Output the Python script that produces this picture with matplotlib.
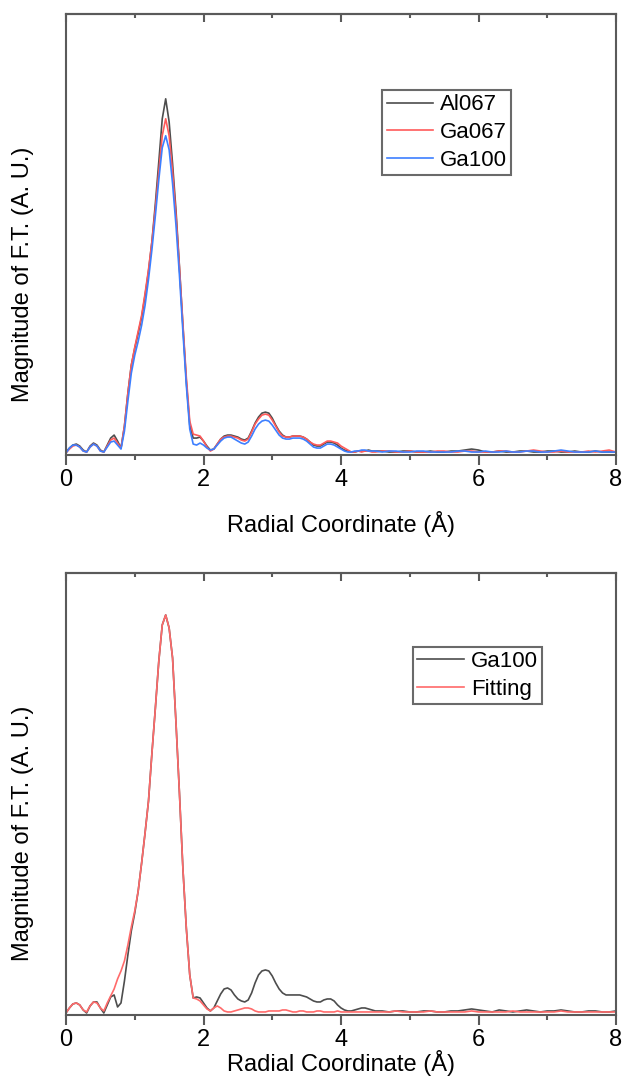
import numpy as np
import matplotlib
matplotlib.use("Agg")
import matplotlib.pyplot as plt
from matplotlib.ticker import MultipleLocator

plt.rcParams['font.family'] = ['Liberation Sans', 'DejaVu Sans']

# R grid: 0.05 steps up to 4.45, then 0.1 steps to 8.0
R = np.r_[np.arange(0, 90) * 0.05, 4.5 + np.arange(0, 36) * 0.1]

# top panel
al067 = [0.01, 0.05, 0.08, 0.09, 0.07, 0.03, 0.01, 0.07, 0.10, 0.08,
         0.03, 0.01, 0.08, 0.15, 0.18, 0.12, 0.05, 0.27, 0.60, 0.88,
         1.05, 1.20, 1.36, 1.58, 1.82, 2.12, 2.50, 2.92, 3.35, 3.55,
         3.32, 2.90, 2.43, 1.87, 1.28, 0.72, 0.28, 0.15, 0.15, 0.16,
         0.12, 0.07, 0.03, 0.04, 0.09, 0.14, 0.17, 0.18, 0.18, 0.17,
         0.16, 0.14, 0.13, 0.15, 0.22, 0.30, 0.36, 0.40, 0.41, 0.40,
         0.35, 0.28, 0.22, 0.18, 0.16, 0.16, 0.17, 0.17, 0.17, 0.16,
         0.14, 0.11, 0.08, 0.07, 0.07, 0.09, 0.11, 0.11, 0.10, 0.08,
         0.05, 0.03, 0.02, 0.01, 0.01, 0.02, 0.02, 0.02, 0.03, 0.02,
         0.02, 0.02, 0.01, 0.01, 0.02, 0.02, 0.01, 0.01, 0.02, 0.01,
         0.01, 0.02, 0.02, 0.03, 0.04, 0.03, 0.01, 0.01, 0.02, 0.01,
         0.01, 0.02, 0.02, 0.01, 0.01, 0.02, 0.02, 0.01, 0.01, 0.02,
         0.01, 0.01, 0.02, 0.01, 0.01, 0.01]

ga067 = [0.00, 0.04, 0.07, 0.08, 0.06, 0.02, 0.01, 0.06, 0.09, 0.07,
         0.02, 0.01, 0.07, 0.13, 0.15, 0.10, 0.05, 0.27, 0.60, 0.88,
         1.06, 1.22, 1.38, 1.60, 1.84, 2.12, 2.45, 2.82, 3.18, 3.35,
         3.18, 2.82, 2.38, 1.86, 1.30, 0.76, 0.32, 0.19, 0.18, 0.17,
         0.12, 0.06, 0.02, 0.04, 0.09, 0.14, 0.16, 0.17, 0.17, 0.16,
         0.15, 0.13, 0.12, 0.14, 0.21, 0.29, 0.34, 0.38, 0.39, 0.38,
         0.33, 0.27, 0.21, 0.17, 0.16, 0.16, 0.17, 0.17, 0.17, 0.16,
         0.14, 0.11, 0.09, 0.08, 0.08, 0.10, 0.12, 0.12, 0.11, 0.10,
         0.07, 0.05, 0.03, 0.01, 0.01, 0.02, 0.01, 0.02, 0.02, 0.01,
         0.01, 0.02, 0.02, 0.01, 0.01, 0.02, 0.01, 0.01, 0.01, 0.02,
         0.02, 0.01, 0.01, 0.02, 0.02, 0.01, 0.01, 0.01, 0.02, 0.02,
         0.01, 0.01, 0.02, 0.03, 0.02, 0.01, 0.01, 0.02, 0.01, 0.01,
         0.01, 0.02, 0.01, 0.02, 0.03, 0.01]

ga100 = [0.00, 0.05, 0.08, 0.08, 0.06, 0.02, 0.01, 0.06, 0.09, 0.07,
         0.02, 0.01, 0.06, 0.11, 0.12, 0.08, 0.04, 0.22, 0.52, 0.80,
         0.98, 1.12, 1.28, 1.48, 1.74, 2.04, 2.38, 2.74, 3.06, 3.18,
         3.04, 2.70, 2.28, 1.78, 1.22, 0.68, 0.24, 0.09, 0.08, 0.10,
         0.08, 0.05, 0.03, 0.04, 0.08, 0.12, 0.15, 0.16, 0.16, 0.14,
         0.12, 0.10, 0.09, 0.11, 0.17, 0.24, 0.29, 0.32, 0.33, 0.32,
         0.28, 0.23, 0.18, 0.15, 0.14, 0.14, 0.15, 0.15, 0.15, 0.14,
         0.12, 0.09, 0.06, 0.05, 0.05, 0.07, 0.09, 0.09, 0.08, 0.06,
         0.04, 0.02, 0.01, 0.01, 0.02, 0.02, 0.03, 0.03, 0.02, 0.02,
         0.02, 0.01, 0.02, 0.02, 0.01, 0.01, 0.02, 0.02, 0.01, 0.01,
         0.01, 0.01, 0.02, 0.02, 0.01, 0.01, 0.02, 0.01, 0.01, 0.02,
         0.01, 0.01, 0.02, 0.02, 0.01, 0.01, 0.02, 0.03, 0.02, 0.01,
         0.01, 0.01, 0.02, 0.01, 0.01, 0.01]

# bottom panel (different normalisation)
ga100_fit_data = [0.00, 0.05, 0.09, 0.10, 0.08, 0.03, 0.00, 0.07, 0.11, 0.11,
                  0.05, 0.00, 0.08, 0.16, 0.18, 0.06, 0.10, 0.32, 0.58, 0.82,
                  1.00, 1.22, 1.50, 1.80, 2.12, 2.60, 3.05, 3.52, 3.88, 3.98,
                  3.85, 3.55, 2.90, 2.20, 1.45, 0.85, 0.38, 0.15, 0.16, 0.15,
                  0.10, 0.05, 0.02, 0.05, 0.12, 0.19, 0.24, 0.25, 0.23, 0.18,
                  0.14, 0.12, 0.11, 0.13, 0.20, 0.30, 0.38, 0.42, 0.43, 0.42,
                  0.37, 0.30, 0.24, 0.20, 0.18, 0.18, 0.18, 0.18, 0.18, 0.17,
                  0.16, 0.14, 0.12, 0.11, 0.11, 0.13, 0.14, 0.14, 0.12, 0.08,
                  0.05, 0.03, 0.02, 0.02, 0.03, 0.04, 0.05, 0.05, 0.04, 0.03,
                  0.02, 0.02, 0.01, 0.02, 0.02, 0.01, 0.01, 0.02, 0.02, 0.01,
                  0.01, 0.02, 0.02, 0.03, 0.04, 0.03, 0.02, 0.01, 0.03, 0.02,
                  0.01, 0.02, 0.03, 0.02, 0.01, 0.02, 0.02, 0.03, 0.02, 0.01,
                  0.01, 0.02, 0.02, 0.01, 0.01, 0.02]

fitting = [0.00, 0.05, 0.09, 0.10, 0.08, 0.03, 0.01, 0.07, 0.11, 0.10,
           0.05, 0.02, 0.10, 0.17, 0.24, 0.34, 0.42, 0.52, 0.68, 0.86,
           1.02, 1.22, 1.50, 1.80, 2.12, 2.60, 3.05, 3.52, 3.88, 3.98,
           3.85, 3.55, 2.90, 2.20, 1.45, 0.85, 0.38, 0.15, 0.14, 0.12,
           0.08, 0.04, 0.02, 0.05, 0.07, 0.05, 0.02, 0.01, 0.01, 0.02,
           0.03, 0.04, 0.05, 0.05, 0.04, 0.02, 0.01, 0.01, 0.01, 0.02,
           0.02, 0.02, 0.02, 0.03, 0.03, 0.02, 0.01, 0.01, 0.02, 0.02,
           0.01, 0.01, 0.01, 0.02, 0.02, 0.01, 0.01, 0.01, 0.01, 0.02,
           0.01, 0.01, 0.01, 0.01, 0.01, 0.01, 0.01, 0.01, 0.01, 0.01,
           0.01, 0.01, 0.01, 0.02, 0.01, 0.01, 0.01, 0.01, 0.02, 0.01,
           0.01, 0.01, 0.01, 0.01, 0.02, 0.01, 0.01, 0.01, 0.01, 0.01,
           0.02, 0.01, 0.01, 0.01, 0.01, 0.01, 0.01, 0.02, 0.01, 0.01,
           0.01, 0.01, 0.01, 0.01, 0.01, 0.01]

AXIS_COLOR = '#5a5a5a'
FS = 17


def style_panel(ax, xlabel_y):
    ax.set_xlim(0, 8)
    ax.set_ylim(-0.02, 4.40)
    ax.set_yticks([])
    for sp in ax.spines.values():
        sp.set_color(AXIS_COLOR)
        sp.set_linewidth(1.5)
    ax.xaxis.set_major_locator(MultipleLocator(2))
    ax.xaxis.set_minor_locator(MultipleLocator(1))
    ax.tick_params(axis='x', which='major', direction='out', length=7, width=1.5,
                   color=AXIS_COLOR, labelsize=FS, pad=3)
    ax.tick_params(axis='x', which='minor', direction='out', length=3.5, width=1.5,
                   color=AXIS_COLOR)
    # mirrored ticks on top, pointing into the frame
    top = ax.secondary_xaxis('top')
    top.xaxis.set_major_locator(MultipleLocator(2))
    top.xaxis.set_minor_locator(MultipleLocator(1))
    top.tick_params(which='major', direction='in', length=6, width=1.5,
                    color=AXIS_COLOR, labeltop=False)
    top.tick_params(which='minor', direction='in', length=3, width=1.5,
                    color=AXIS_COLOR)
    top.spines['top'].set_color(AXIS_COLOR)
    top.spines['top'].set_linewidth(1.5)
    ax.set_xlabel("Radial Coordinate (Å)", fontsize=FS)
    ax.xaxis.set_label_coords(0.5, xlabel_y)
    ax.set_ylabel("Magnitude of F.T. (A. U.)", fontsize=FS)
    ax.yaxis.set_label_coords(-0.058, 0.41)


def add_legend(ax, anchor):
    leg = ax.legend(loc='upper left', bbox_to_anchor=anchor, fontsize=16,
                    frameon=True, fancybox=False, framealpha=1, edgecolor='#6a6a6a',
                    handlelength=2.1, handletextpad=0.3, borderpad=0.2,
                    labelspacing=0.3, borderaxespad=0)
    leg.get_frame().set_linewidth(1.5)
    return leg


fig = plt.figure(figsize=(6.25, 10.77), dpi=100)

ax1 = fig.add_axes([0.1056, 0.5775, 0.88, 0.4095])
ax1.plot(R, al067, color='#4d4d4d', lw=1.2, label='Al067')
ax1.plot(R, ga067, color='#ff5a5a', lw=1.2, label='Ga067')
ax1.plot(R, ga100, color='#3d7fff', lw=1.2, label='Ga100')
style_panel(ax1, -0.127)
add_legend(ax1, (0.575, 0.828))

ax2 = fig.add_axes([0.1056, 0.0576, 0.88, 0.4104])
ax2.plot(R, ga100_fit_data, color='#4d4d4d', lw=1.2, label='Ga100')
ax2.plot(R, fitting, color='#ff6a6a', lw=1.2, label='Fitting')
style_panel(ax2, -0.080)
add_legend(ax2, (0.631, 0.833))

fig.savefig("out.png", dpi=100)
